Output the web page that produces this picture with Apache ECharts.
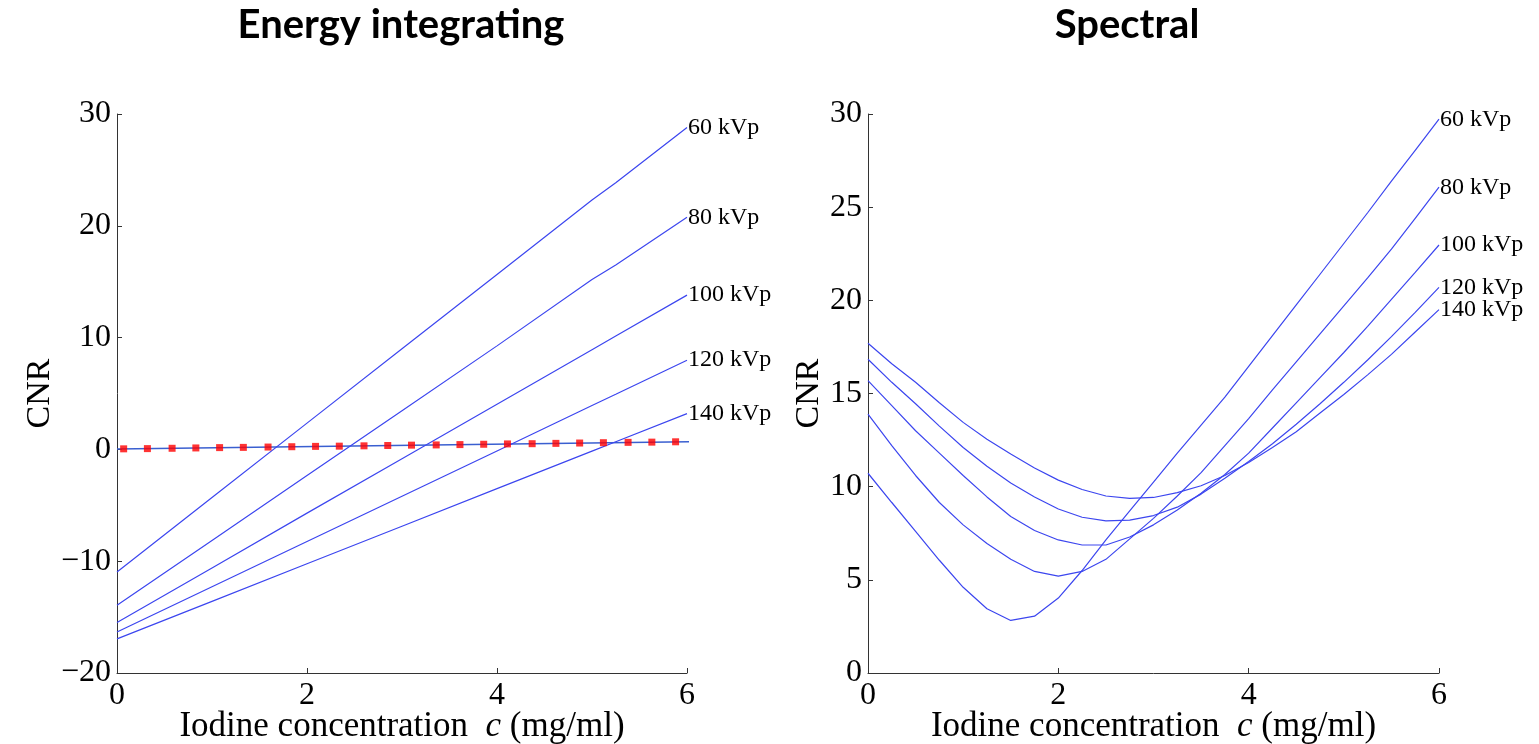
<!DOCTYPE html>
<html>
<head>
<meta charset="utf-8">
<script src="https://cdn.jsdelivr.net/npm/echarts@6/dist/echarts.min.js"></script>
<style>
html,body{margin:0;padding:0;background:#fff;}
#chart{width:1539px;height:744px;}
</style>
</head>
<body>
<div id="chart"></div>
<script>
// ---------- DATA ----------
const seriesNames = ['60 kVp', '80 kVp', '100 kVp', '120 kVp', '140 kVp'];

// Left panel: Energy integrating
const leftX = [0, 1, 2, 3, 4, 5, 5.25, 6];
const left60  = [-10.96, -4.3, 2.35, 9.0, 15.65, 22.3, 23.85, 28.8];
const left80  = [-13.94, -8.14, -2.34, 3.46, 9.26, 15.2, 16.5, 20.76];
const left100 = [-15.48, -10.6, -5.7, -0.84, 4.04, 8.92, 10.14, 13.8];
const left120 = [-16.34, -12.29, -8.24, -4.19, -0.14, 3.92, 4.93, 7.98];
const left140 = [-16.95, -13.59, -10.23, -6.87, -3.51, -0.15, 0.69, 3.2];
const baseX = [0, 6.1];
const baseY = [0.03, 0.70];
const markX = [0.07,0.32,0.58,0.83,1.08,1.33,1.59,1.84,2.09,2.34,2.60,2.85,3.10,3.36,3.61,3.86,4.11,4.37,4.62,4.87,5.12,5.38,5.63,5.88];
const markY = [0.05,0.07,0.10,0.13,0.16,0.18,0.21,0.24,0.27,0.29,0.32,0.35,0.38,0.40,0.43,0.46,0.49,0.51,0.54,0.57,0.60,0.63,0.65,0.68];

// Right panel: Spectral
const rightX = [0,0.25,0.5,0.75,1,1.25,1.5,1.75,2,2.25,2.5,2.75,3,3.25,3.5,3.75,4,4.25,4.5,4.75,5,5.25,5.5,5.75,6];
const right60  = [10.72,9.15,7.6,6.05,4.6,3.45,2.82,3.05,4.02,5.5,7.15,8.7,10.25,11.8,13.3,14.8,16.45,18.1,19.75,21.4,23.05,24.7,26.4,28.05,29.72];
const right80  = [13.89,12.2,10.6,9.15,7.95,6.95,6.1,5.45,5.2,5.45,6.1,7.2,8.3,9.5,10.75,12.2,13.65,15.2,16.7,18.2,19.7,21.2,22.75,24.4,26.07];
const right100 = [15.69,14.35,13.0,11.8,10.6,9.45,8.4,7.65,7.14,6.87,6.87,7.3,7.95,8.75,9.65,10.65,11.8,13.15,14.5,15.85,17.2,18.6,20.05,21.5,22.97];
const right120 = [16.84,15.6,14.45,13.25,12.1,11.1,10.2,9.45,8.8,8.36,8.16,8.2,8.45,8.9,9.6,10.45,11.35,12.3,13.35,14.45,15.6,16.8,18.05,19.35,20.7];
const right140 = [17.7,16.6,15.6,14.5,13.45,12.55,11.75,11.0,10.35,9.85,9.5,9.37,9.42,9.68,10.05,10.6,11.3,12.1,12.95,13.95,14.95,16.0,17.1,18.3,19.5];

const titles = ['Energy integrating', 'Spectral'];
const xTitle = 'Iodine concentration';
const yTitle = 'CNR';

// ---------- BUILD ----------
const zip = (xs, ys) => xs.map((x, i) => [x, ys[i]]);
const LINE = '#3c46ef';
const SERIF = '"Liberation Serif", "DejaVu Serif", serif';

function lineSeries(name, xs, ys, idx) {
  return {
    type: 'line', name: name, xAxisIndex: idx, yAxisIndex: idx,
    data: zip(xs, ys), symbol: 'none', smooth: false,
    lineStyle: { color: LINE, width: 1.2 },
    endLabel: { show: true, formatter: name, color: '#000', fontFamily: SERIF, fontSize: 24, distance: 1 },
    emphasis: { disabled: true }, silent: true, z: 3
  };
}

function axisX(gi) {
  return {
    type: 'value', gridIndex: gi, min: 0, max: 6, interval: 2,
    name: '{a|' + xTitle + '  }{i|c}{a| (mg/ml)}',
    nameLocation: 'middle', nameGap: 36, nameMoveOverlap: false,
    nameTextStyle: { rich: {
      a: { fontFamily: SERIF, fontSize: 35, color: '#000' },
      i: { fontFamily: SERIF, fontSize: 35, color: '#000', fontStyle: 'italic' } } },
    axisLine: { show: true, onZero: false, lineStyle: { color: '#333', width: 1 } },
    axisTick: { show: true, inside: true, length: 5, lineStyle: { color: '#333' } },
    axisLabel: { fontFamily: SERIF, fontSize: 32, color: '#000', margin: 7 },
    splitLine: { show: false }
  };
}
function axisY(gi, min, max, interval, gap) {
  return {
    type: 'value', gridIndex: gi, min: min, max: max, interval: interval,
    name: yTitle, nameLocation: 'middle', nameGap: gap, nameRotate: 90,
    nameTextStyle: { fontFamily: SERIF, fontSize: 34, color: '#000' },
    axisLine: { show: true, onZero: false, lineStyle: { color: '#333', width: 1 } },
    axisTick: { show: true, inside: true, length: 5, lineStyle: { color: '#333' } },
    axisLabel: { fontFamily: SERIF, fontSize: 32, color: '#000', margin: 6,
      formatter: v => v < 0 ? '\u2212' + Math.abs(v) : String(v) },
    splitLine: { show: false }
  };
}

const leftY = [left60, left80, left100, left120, left140];
const rightY = [right60, right80, right100, right120, right140];
const series = [];
leftY.forEach((ys, i) => series.push(lineSeries(seriesNames[i], leftX, ys, 0)));
series.push({
  type: 'line', xAxisIndex: 0, yAxisIndex: 0, data: zip(baseX, baseY), symbol: 'none',
  clip: false, lineStyle: { color: '#3a5fd0', width: 1.5 }, silent: true, z: 2
});
series.push({
  type: 'scatter', xAxisIndex: 0, yAxisIndex: 0, data: zip(markX, markY),
  symbol: 'rect', symbolSize: 7, itemStyle: { color: '#ff0000' }, silent: true, z: 4
});
rightY.forEach((ys, i) => series.push(lineSeries(seriesNames[i], rightX, ys, 1)));

const chart = echarts.init(document.getElementById('chart'), null, { renderer: 'canvas' });
chart.setOption({
  animation: false,
  backgroundColor: '#fff',
  title: [
    { text: titles[0], left: 396, top: 0, textAlign: 'center',
      textStyle: { fontFamily: 'Lato, "Open Sans", sans-serif', fontWeight: 'bold', fontSize: 40, color: '#000' } },
    { text: titles[1], left: 1122, top: 0, textAlign: 'center',
      textStyle: { fontFamily: 'Lato, "Open Sans", sans-serif', fontWeight: 'bold', fontSize: 40, color: '#000' } }
  ],
  grid: [
    { left: 117, top: 114, width: 570, height: 559, containLabel: false, outerBoundsMode: 'none' },
    { left: 868, top: 114, width: 571, height: 559, containLabel: false, outerBoundsMode: 'none' }
  ],
  xAxis: [axisX(0), axisX(1)],
  yAxis: [axisY(0, -20, 30, 10, 60), axisY(1, 0, 30, 5, 42)],
  series: series
});
</script>
</body>
</html>
